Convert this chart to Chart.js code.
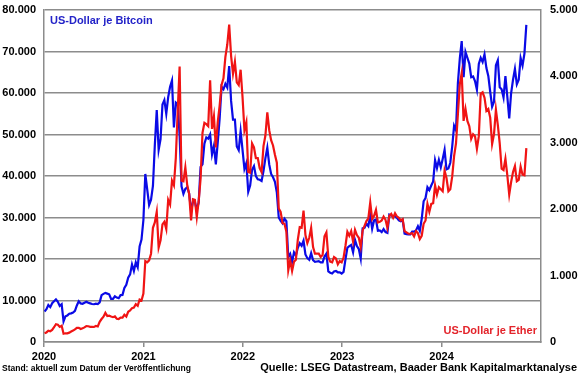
<!DOCTYPE html>
<html lang="de">
<head>
<meta charset="utf-8">
<title>Bitcoin und Ether in US-Dollar</title>
<script src="https://cdn.jsdelivr.net/npm/chart.js@4.4.1/dist/chart.umd.min.js"></script>
<style>
  html, body { margin: 0; padding: 0; background: #fff; }
  #wrap { position: relative; width: 580px; height: 375px; font-family: "Liberation Sans", Arial, sans-serif; font-weight: bold; }
  #chart { position: absolute; left: 0; top: 0; }
  .txt { position: absolute; white-space: nowrap; line-height: 1; }
  #lbl-btc { left: 50px; top: 15px; font-size: 11px; color: #2323c8; }
  #lbl-eth { right: 43px; top: 325px; font-size: 11px; color: #e3242b; }
  #stand   { left: 2px; top: 364px; font-size: 8.5px; color: #000; }
  #quelle  { right: 3px; top: 362px; font-size: 11px; color: #000; }
</style>
</head>
<body>
<div id="wrap">
  <canvas id="chart" width="580" height="375"></canvas>
  <div class="txt" id="lbl-btc">US-Dollar je Bitcoin</div>
  <div class="txt" id="lbl-eth">US-Dollar je Ether</div>
  <div class="txt" id="stand">Stand: aktuell zum Datum der Veröffentlichung</div>
  <div class="txt" id="quelle">Quelle: LSEG Datastream, Baader Bank Kapitalmarktanalyse</div>
</div>
<script>
/* ─── Data (weekly, Fridays from 2020-01-03) ─────────────────────────────── */

const firstWeek = '2020-01-03';

const btcUsd = [
  // 2020
  7350, 7900, 8900, 8400, 9350,  9800, 10250, 9700, 8700,  9100, 5000, 6200, 6400,
  6800, 6900, 7100, 7500,  8800, 9800, 9300, 9200, 9450,  9700, 9450, 9300, 9150,
  9100, 9250, 9150, 9550, 11300,  11600, 11800, 11650, 11500,  10400, 10400, 11000, 10700,
  10550, 11300, 11350, 13000, 13800,  15500, 16300, 18700, 17100,  19200, 18000, 23000, 24700,
  // 2021
  29400, 40500, 36800, 33000, 34300,  37600, 47500, 55900, 46300,  48900, 57200, 58300, 55000,
  59000, 61500, 63000, 51700, 57700,  57300, 49700, 37500, 35700,  36900, 37300, 35800, 31600,
  33800, 33800, 31800, 33600, 42200,  42800, 47800, 49300, 49000,  50000, 45200, 47300, 42800,
  48100, 53900, 61500, 60900, 62200,  61300, 66500, 58100, 53600,  53600, 47100, 46200, 50800, 46300,
  // 2022
  41700, 43100, 36200, 37700,  41500, 42400, 40000, 39200,  39100, 38800, 41200, 44300,
  46800, 42800, 40500, 39700, 38600,  36000, 30000, 29200, 28600,  29700, 29100, 20400, 21200,
  19300, 21600, 20800, 22700, 23800,  23200, 24400, 21100, 20200,  19800, 21400, 19700, 19300, 19400,
  19500, 19200, 19200, 20600,  21300, 17000, 16700, 16500,  17000, 17100, 16800, 16800, 16500,
  // 2023
  16900, 19900, 22700, 23100,  23400, 21600, 24600, 23100,  22400, 20100, 27400, 27500, 28500,
  27900, 30500, 27300, 29300,  29500, 26800, 26900, 26500,  27200, 26500, 26300, 30700, 30500,
  30300, 30300, 29900, 29300,  29100, 29400, 26100, 26000,  25900, 25900, 26600, 26600, 26900,
  27900, 26800, 29700, 33900,  34700, 37300, 36600, 37700,  38700, 43800, 41900, 43900, 42100,
  // 2024
  44100, 46300, 41600, 41800,  43200, 47100, 52100, 51000,  62400, 68300, 72500, 63800, 69900,
  68500, 67100, 63800, 64000,  62900, 60800, 67000, 68500, 67500,  69300, 66000, 64100, 60300,
  56700, 57900, 66700, 67900,  61400, 60900, 58900, 64100, 59100,  53900, 60000, 63200, 65800,
  62100, 63200, 68400, 66600,  69500, 76400
];

const ethUsd = [
  // 2020
  134, 144, 170, 162, 182,  222, 268, 260, 227,  244, 125, 132, 131,
  141, 158, 172, 190,  214, 212, 195, 207, 220,  240, 237, 229, 229,
  226, 241, 233, 305, 346,  380, 438, 390, 397,  385, 374, 385, 350,
  346, 366, 366, 410, 383,  455, 475, 510, 518,  570, 545, 640, 625,
  // 2021
  730, 1220, 1200, 1230, 1330,  1720, 1800, 1960, 1420,  1530, 1770, 1810, 1700,
  2140, 2070, 2430, 2360, 2770,  3480, 4150, 2430, 2420,  2630, 2360, 2230, 1830,
  2150, 2140, 1880, 2120, 2460,  3150, 3300, 3280, 3250,  3940, 3210, 3400, 2930,
  3310, 3560, 3870, 3970, 4290,  4480, 4780, 4310, 4040,  4220, 3910, 3870, 4100, 3690,
  // 2022
  3190, 3310, 2560, 2550,  2990, 2930, 2770, 2770,  2620, 2560, 2950, 3110,
  3460, 3190, 3040, 2960, 2820,  2700, 2010, 1960, 1790,  1780, 1660, 1080, 1230,
  1070, 1210, 1240, 1540, 1730,  1720, 1980, 1610, 1490,  1570, 1720, 1430, 1330, 1330,
  1330, 1280, 1310, 1590,  1650, 1280, 1210, 1200,  1280, 1260, 1170, 1220, 1200,
  // 2023
  1270, 1450, 1660, 1600,  1670, 1510, 1690, 1610,  1570, 1430, 1680, 1750, 1820,
  1860, 2100, 1850, 1900,  1990, 1800, 1810, 1830,  1890, 1840, 1720, 1900, 1930,
  1870, 1940, 1890, 1870,  1830, 1850, 1670, 1650,  1630, 1630, 1640, 1590, 1670,
  1640, 1550, 1600, 1780,  1830, 2080, 1960, 2080,  2090, 2360, 2220, 2330, 2300,
  // 2024
  2270, 2580, 2470, 2270,  2300, 2490, 2800, 2990,  3430, 3880, 4050, 3330, 3510,
  3330, 3250, 3060, 3130,  3100, 2910, 3100, 3740, 3760,  3680, 3480, 3510, 3380,
  2980, 3130, 3500, 3270,  2990, 2610, 2590, 2760, 2510,  2220, 2410, 2560, 2650,
  2420, 2440, 2640, 2520,  2510, 2920
];

const yearTicks = [2020, 2021, 2022, 2023, 2024];
const btcTicks  = [0, 10000, 20000, 30000, 40000, 50000, 60000, 70000, 80000];
const ethTicks  = [0, 1000, 2000, 3000, 4000, 5000];

/* ─── Helpers ──────────────────────────────────────────────────────────────── */

const GRID  = '#8c8c8c';
const FONT  = { family: '"Liberation Sans", Arial, sans-serif', size: 11, weight: 'bold' };

function fmt(v) {
  return String(v).replace(/\B(?=(\d{3})+(?!\d))/g, '.');
}

// decimal year for week i
function weekX(i) {
  const d = new Date(Date.parse(firstWeek + 'T00:00:00Z') + i * 7 * 86400000);
  const y = d.getUTCFullYear();
  const start = Date.UTC(y, 0, 1), end = Date.UTC(y + 1, 0, 1);
  return y + (d.getTime() - start) / (end - start);
}

const btcPts = btcUsd.map((v, i) => ({ x: weekX(i), y: v }));
const ethPts = ethUsd.map((v, i) => ({ x: weekX(i), y: v }));

function fixTicks(list) {
  return scale => { scale.ticks = list.map(v => ({ value: v })); };
}

// fixed axis box, no label overflow padding
function fixBox(w, h) {
  return s => {
    if (w != null) s.width = w;
    if (h != null) s.height = h;
    s.paddingTop = 0; s.paddingBottom = 0;
    s.paddingLeft = 0; s.paddingRight = 0;
  };
}

/* ─── Chart ────────────────────────────────────────────────────────────────── */

new Chart(document.getElementById('chart').getContext('2d'), {
  type: 'line',
  data: {
    datasets: [
      {
        label: 'US-Dollar je Ether',
        data: ethPts,
        yAxisID: 'yR',
        borderColor: '#f01414',
        borderWidth: 2.2,
        pointRadius: 0,
        tension: 0,
      },
      {
        label: 'US-Dollar je Bitcoin',
        data: btcPts,
        yAxisID: 'yL',
        borderColor: '#0a0ae6',
        borderWidth: 2.2,
        pointRadius: 0,
        tension: 0,
      },
    ],
  },
  options: {
    responsive: false,
    devicePixelRatio: 1,
    animation: false,
    layout: { padding: { top: 10, left: 0, right: 0, bottom: 0 } },
    plugins: { legend: { display: false }, tooltip: { enabled: false } },
    scales: {
      x: {
        type: 'linear',
        min: 2020,
        max: 2025,
        afterBuildTicks: fixTicks(yearTicks),
        afterFit: fixBox(null, 33),
        ticks: { color: '#000', font: FONT, padding: 3, maxRotation: 0, callback: v => String(v) },
        grid:  { drawOnChartArea: false, drawTicks: true, tickLength: 5, color: GRID, lineWidth: 1.5 },
        border: { display: true, color: GRID, width: 1.5 },
      },
      yL: {
        position: 'left',
        min: 0,
        max: 80000,
        afterBuildTicks: fixTicks(btcTicks),
        afterFit: fixBox(44, null),
        ticks: { color: '#000', font: FONT, padding: 8, callback: v => fmt(v) },
        grid:  { color: GRID, lineWidth: 1.5, drawTicks: false },
        border: { display: true, color: GRID, width: 1.5 },
      },
      yR: {
        position: 'right',
        min: 0,
        max: 5000,
        afterBuildTicks: fixTicks(ethTicks),
        afterFit: fixBox(39, null),
        ticks: { color: '#000', font: FONT, padding: 9, callback: v => fmt(v) },
        grid:  { drawOnChartArea: false, drawTicks: false },
        border: { display: true, color: GRID, width: 1.5 },
      },
    },
  },
});
</script>
</body>
</html>
